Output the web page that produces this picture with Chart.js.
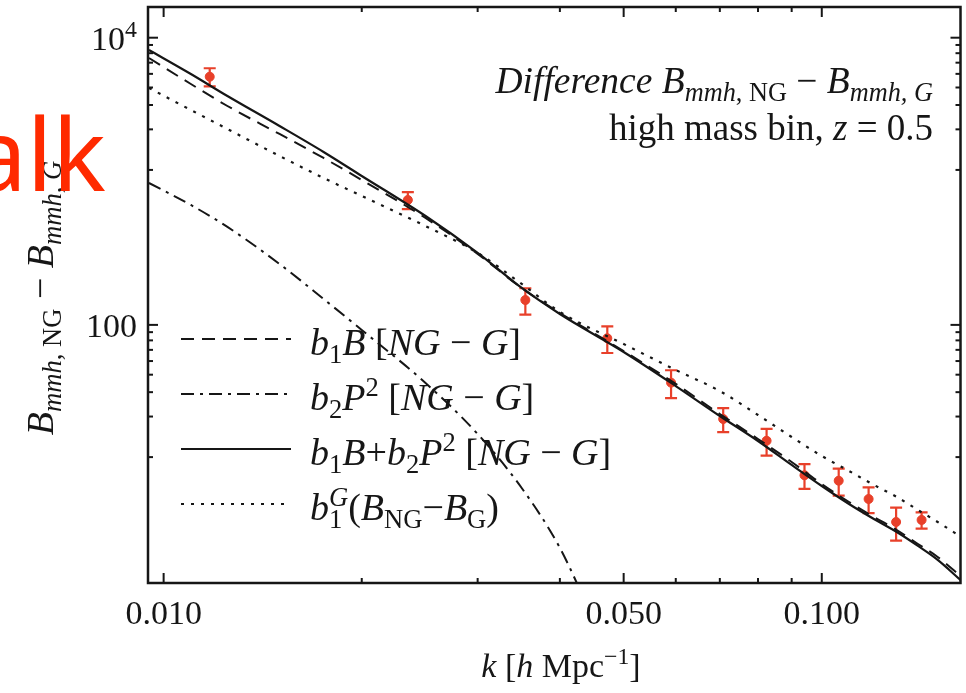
<!DOCTYPE html>
<html>
<head>
<meta charset="utf-8">
<script src="https://cdn.jsdelivr.net/npm/chart.js@4.4.0/dist/chart.umd.min.js"></script>
<style>
  body { margin: 0; background: #fff; }
  canvas { display: block; }
</style>
</head>
<body>
<canvas id="myChart" width="966" height="693"></canvas>
<script>
// simulation points, k in h/Mpc
let kData = [0.01175, 0.0235, 0.03545, 0.04722, 0.05902, 0.07083, 0.08244, 0.09413, 0.1061, 0.1178, 0.1297, 0.1418];
let bData = [5350, 741, 149, 80.7, 39.6, 22.1, 15.6, 8.97, 8.22, 6.13, 4.24, 4.38];
let bErr = [775, 100, 31, 17, 8.7, 4.2, 3.3, 1.75, 1.75, 1.25, 1.1, 0.57];

// model curves
let kModel = [0.0095, 0.011, 0.0125, 0.015, 0.0175, 0.02, 0.025, 0.03, 0.035, 0.04, 0.05, 0.06, 0.07, 0.08, 0.09, 0.1, 0.11, 0.12, 0.13, 0.14, 0.15, 0.163];
let b1B = [7220, 4760, 3345, 2135, 1453, 1021, 555, 312, 180.7, 121.0, 65.8, 38.8, 23.96, 16.05, 11.10, 7.79, 5.84, 4.60, 3.73, 2.98, 2.42, 1.76];
let b1Bb2P2 = [8209, 5587, 3926, 2427, 1600, 1089, 573, 317, 180.7, 119.1, 64.8, 37.5, 23.2, 15.54, 10.58, 7.55, 5.66, 4.45, 3.61, 2.89, 2.31, 1.65];
let b1G = [4464, 3137, 2313, 1501, 1054, 790, 488, 317, 192.7, 123.0, 73.6, 48.5, 34.6, 23.58, 16.57, 12.22, 9.61, 7.68, 6.33, 5.14, 4.24, 3.33];
let kP2 = [0.0095, 0.011, 0.0125, 0.015, 0.0175, 0.02, 0.025, 0.03, 0.035, 0.04, 0.045];
let b2P2 = [973, 684, 481, 265.6, 151.5, 92.1, 39.4, 17.39, 7.31, 2.80, 0.88];

// ticks
let xMajor = [0.01, 0.05, 0.1];
let xLabels = ['0.010', '0.050', '0.100'];
let xMinor = [0.02, 0.03, 0.04, 0.06, 0.07, 0.08, 0.09];
let yMajor = [100, 10000];
let yMinor = [12, 23, 34, 45, 56, 67, 78, 89, 1200, 2300, 3400, 4500, 5600, 6700, 7800, 8900];

const serif = "'Liberation Serif', 'Times New Roman', serif";
const ink = '#161616';
const red = '#e8402a';

function toPts(xs, ys) {
    return xs.map((x, i) => ({ x: x, y: ys[i] }));
}

// rich text: [text, flags]  i=italic b=subscript p=superscript k=no advance
function partFont(f, size) {
    let s = (f.includes('b') || f.includes('p')) ? size * 0.7 : size;
    return (f.includes('i') ? 'italic ' : '') + s.toFixed(1) + 'px ' + serif;
}
function richWidth(ctx, parts, size) {
    let w = 0;
    parts.forEach(([t, f = '']) => {
        ctx.font = partFont(f, size);
        if (!f.includes('k')) w += ctx.measureText(t).width;
    });
    return w;
}
function drawRich(ctx, parts, x, y, size, align) {
    let w = richWidth(ctx, parts, size);
    let cx = align === 'right' ? x - w : align === 'center' ? x - w / 2 : x;
    ctx.textAlign = 'left';
    ctx.textBaseline = 'alphabetic';
    parts.forEach(([t, f = '']) => {
        ctx.font = partFont(f, size);
        let dy = f.includes('b') ? size * 0.22 : f.includes('p') ? -size * 0.38 : 0;
        ctx.fillText(t, cx, y + dy);
        if (!f.includes('k')) cx += ctx.measureText(t).width;
    });
}

const legendItems = [
    { dash: [13, 8], parts: [['b', 'i'], ['1', 'b'], ['B', 'i'], [' ['], ['NG', 'i'], [' \u2212 '], ['G', 'i'], [']']] },
    { dash: [13, 6, 3, 6], parts: [['b', 'i'], ['2', 'b'], ['P', 'i'], ['2', 'p'], [' ['], ['NG', 'i'], [' \u2212 '], ['G', 'i'], [']']] },
    { dash: [], parts: [['b', 'i'], ['1', 'b'], ['B', 'i'], ['+'], ['b', 'i'], ['2', 'b'], ['P', 'i'], ['2', 'p'], [' ['], ['NG', 'i'], [' \u2212 '], ['G', 'i'], [']']] },
    { dash: [3, 7], parts: [['b', 'i'], ['1', 'bk'], ['G', 'ip'], ['('], ['B', 'i'], ['NG', 'b'], ['\u2212'], ['B', 'i'], ['G', 'b'], [')']] }
];

const framePlugin = {
    id: 'frame',
    beforeDatasetsDraw(chart) {
        const ctx = chart.ctx, xs = chart.scales.x, ys = chart.scales.y;
        ctx.save();
        ctx.strokeStyle = red;
        ctx.lineWidth = 2.2;
        kData.forEach((k, i) => {
            const px = xs.getPixelForValue(k);
            const top = ys.getPixelForValue(bData[i] + bErr[i]);
            const bot = ys.getPixelForValue(bData[i] - bErr[i]);
            ctx.beginPath();
            ctx.moveTo(px, top); ctx.lineTo(px, bot);
            ctx.moveTo(px - 6, top); ctx.lineTo(px + 6, top);
            ctx.moveTo(px - 6, bot); ctx.lineTo(px + 6, bot);
            ctx.stroke();
        });
        ctx.restore();
    },
    afterDraw(chart) {
        const ctx = chart.ctx, xs = chart.scales.x, ys = chart.scales.y, a = chart.chartArea;
        ctx.save();
        ctx.strokeStyle = ink;
        ctx.fillStyle = ink;

        // frame and inward ticks on all four sides
        ctx.lineWidth = 2.5;
        ctx.strokeRect(a.left, a.top, a.right - a.left, a.bottom - a.top);
        ctx.lineWidth = 2;
        function tick(px, py, dx, dy) {
            ctx.beginPath(); ctx.moveTo(px, py); ctx.lineTo(px + dx, py + dy); ctx.stroke();
        }
        xMajor.forEach(v => { const p = xs.getPixelForValue(v); tick(p, a.bottom, 0, -10); tick(p, a.top, 0, 10); });
        xMinor.forEach(v => { const p = xs.getPixelForValue(v); tick(p, a.bottom, 0, -5); tick(p, a.top, 0, 5); });
        yMajor.forEach(v => { const p = ys.getPixelForValue(v); tick(a.left, p, 10, 0); tick(a.right, p, -10, 0); });
        yMinor.forEach(v => { const p = ys.getPixelForValue(v); tick(a.left, p, 5, 0); tick(a.right, p, -5, 0); });

        // tick labels
        xMajor.forEach((v, i) => {
            drawRich(ctx, [[xLabels[i]]], xs.getPixelForValue(v), a.bottom + 41, 34, 'center');
        });
        drawRich(ctx, [['100']], 137, ys.getPixelForValue(100) + 12, 34, 'right');
        drawRich(ctx, [['10'], ['4', 'p']], 137, ys.getPixelForValue(10000) + 12, 34, 'right');

        // axis titles
        drawRich(ctx, [['k', 'i'], [' ['], ['h', 'i'], [' Mpc'], ['\u22121', 'p'], [']']], 561, 677, 34, 'center');
        ctx.save();
        ctx.translate(53, 298);
        ctx.rotate(-Math.PI / 2);
        drawRich(ctx, [['B', 'i'], ['mmh', 'ib'], [', NG', 'b'], [' \u2212 '], ['B', 'i'], ['mmh', 'ib'], [', G', 'ib']], 0, 0, 38, 'center');
        ctx.restore();

        // annotation
        drawRich(ctx, [['Difference ', 'i'], ['B', 'i'], ['mmh', 'ib'], [', NG', 'b'], [' \u2212 '], ['B', 'i'], ['mmh', 'ib'], [', G', 'ib']], 933, 93, 37.5, 'right');
        drawRich(ctx, [['high mass bin, '], ['z', 'i'], [' = 0.5']], 933, 140, 37, 'right');

        // legend
        legendItems.forEach((item, i) => {
            const y = 339 + i * 55;
            ctx.save();
            ctx.lineWidth = 2;
            ctx.setLineDash(item.dash);
            ctx.beginPath(); ctx.moveTo(181, y); ctx.lineTo(291, y); ctx.stroke();
            ctx.restore();
            drawRich(ctx, item.parts, 310, y + 16, 38, 'left');
        });

        // slide fragment in the corner
        ctx.fillStyle = '#ff2a00';
        ctx.font = "100px 'Noto Sans', sans-serif";
        ctx.textAlign = 'right';
        ctx.fillText('alk', 106, 191);
        ctx.restore();
    }
};

let myChart = document.getElementById('myChart').getContext('2d');
let bispChart = new Chart(myChart, {
    type: 'scatter',
    data: {
        datasets: [{
            label: 'b1B [NG - G]',
            data: toPts(kModel, b1B),
            showLine: true,
            borderColor: ink,
            borderWidth: 2,
            borderDash: [13, 8],
            pointRadius: 0,
            cubicInterpolationMode: 'monotone'
        }, {
            label: 'b2P2 [NG - G]',
            data: toPts(kP2, b2P2),
            showLine: true,
            borderColor: ink,
            borderWidth: 2,
            borderDash: [13, 6, 3, 6],
            pointRadius: 0,
            cubicInterpolationMode: 'monotone'
        }, {
            label: 'b1B+b2P2 [NG - G]',
            data: toPts(kModel, b1Bb2P2),
            showLine: true,
            borderColor: ink,
            borderWidth: 2.2,
            pointRadius: 0,
            cubicInterpolationMode: 'monotone'
        }, {
            label: 'b1G (BNG - BG)',
            data: toPts(kModel, b1G),
            showLine: true,
            borderColor: ink,
            borderWidth: 2.2,
            borderDash: [3, 7],
            pointRadius: 0,
            cubicInterpolationMode: 'monotone'
        }, {
            label: 'N-body',
            data: toPts(kData, bData),
            backgroundColor: red,
            borderColor: red,
            pointRadius: 4.5
        }]
    },
    options: {
        responsive: false,
        animation: false,
        layout: {
            padding: { left: 148, right: 2, top: 7, bottom: 110 }
        },
        scales: {
            x: { type: 'logarithmic', display: false, min: 0.009468, max: 0.16247 },
            y: { type: 'logarithmic', display: false, min: 1.594, max: 16360 }
        },
        plugins: {
            legend: { display: false },
            tooltip: { enabled: false }
        }
    },
    plugins: [framePlugin]
});
</script>
</body>
</html>
